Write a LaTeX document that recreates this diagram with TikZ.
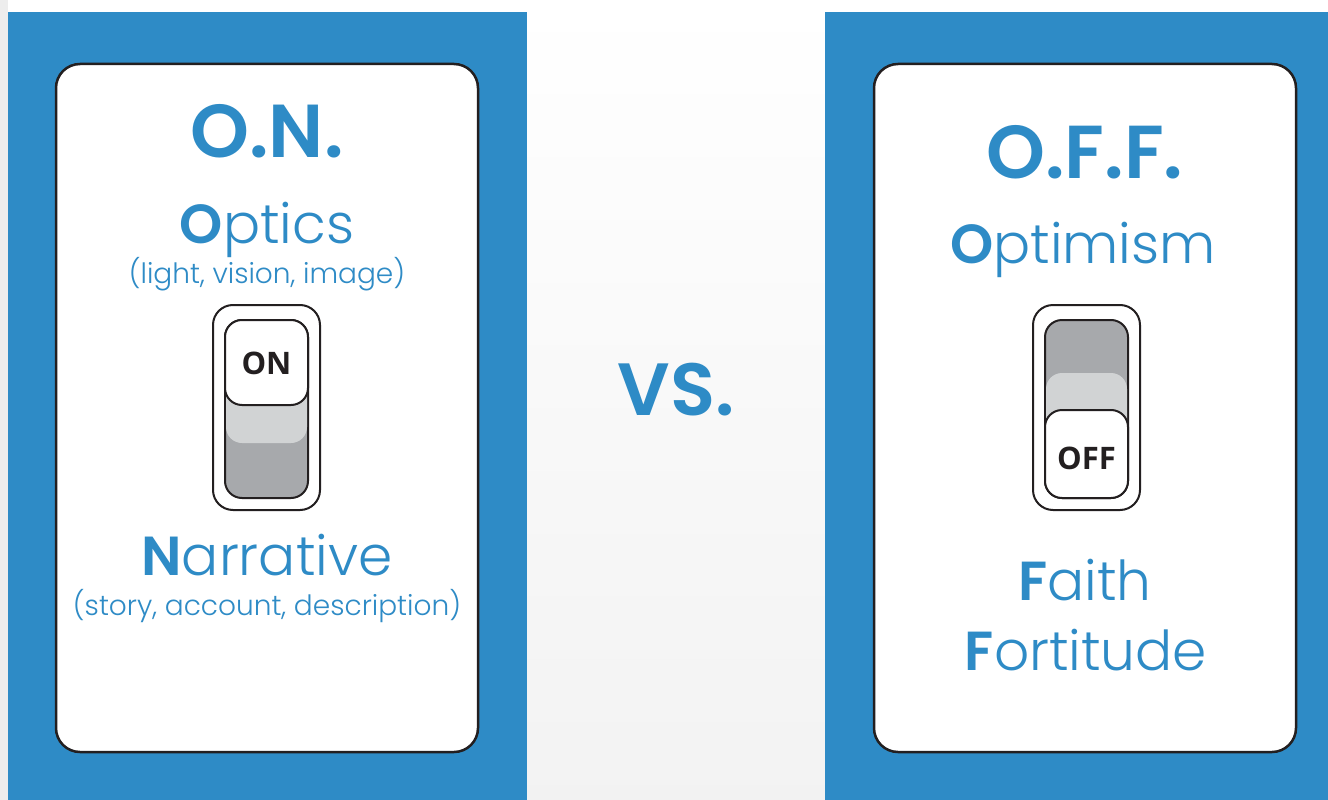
\documentclass[tikz,border=0pt]{standalone}
\usepackage{fontspec}
\setmainfont{Poppins}[UprightFont=* Light, BoldFont=* SemiBold]
\newfontfamily\switchfont{Open Sans}[BoldFont=* Bold]
\definecolor{panelblue}{HTML}{2E8BC6}
\definecolor{knobgrey}{HTML}{A7A9AC}
\definecolor{slidegrey}{HTML}{D1D3D4}
\definecolor{edgeblack}{HTML}{231F20}
\tikzset{
  panel/.style={fill=panelblue},
  card/.style={draw=edgeblack,line width=2.5pt,fill=white,rounded corners=24pt},
  title/.style={text=panelblue,inner sep=0pt,anchor=base,font=\bfseries\fontsize{75}{75}\selectfont},
  word/.style={text=panelblue,inner sep=0pt,anchor=base,font=\fontsize{55}{55}\selectfont},
  hint/.style={text=panelblue,inner sep=0pt,anchor=base,font=\fontsize{28}{28}\selectfont},
  frame/.style={draw=edgeblack,line width=2pt,fill=white,rounded corners=20pt},
  track/.style={draw=edgeblack,line width=2pt,fill=knobgrey,rounded corners=17pt},
  knob/.style={draw=edgeblack,line width=2pt,fill=white,rounded corners=17pt},
  sw/.style={text=edgeblack,inner sep=0pt,font=\switchfont\bfseries\fontsize{31}{31}\selectfont}
}
\begin{document}
\begin{tikzpicture}[x=1pt,y=-1pt]
\useasboundingbox (0,0) rectangle (1328,800);
\shade[top color=white,bottom color=gray!10] (0,0) rectangle (1328,800);
\fill[gray!14] (0,0) rectangle (8,800);
% blue panels and white cards
\fill[panel] (8,12) rectangle (527,800);
\fill[panel] (825,12) rectangle (1328,800);
\draw[card] (56,64) rectangle (478,752);
\draw[card] (874,64) rectangle (1296,752);
% left card: O.N.
\node[title] (on) at (267,157) {O.N.};
\node[word] (optics) at (267,243) {\textbf{O}ptics};
\node[hint] (light) at (267,283) {(light, vision, image)};
\draw[frame] (213,305) rectangle (320,510);
\draw[track] (225,320) rectangle (308,498);
\fill[slidegrey,rounded corners=16pt] (226,370) rectangle (307,443);
\draw[knob] (225,320) rectangle (308,405);
\node[sw] (onlabel) at (266.5,363) {ON};
\node[word] (narrative) at (267,575) {\textbf{N}arrative};
\node[hint] (story) at (267,615) {(story, account, description)};
% middle
\node[title,font=\bfseries\fontsize{74}{74}\selectfont] (vs) at (676,415) {VS.};
% right card: O.F.F.
\node[title] (off) at (1085,178) {O.F.F.};
\node[word] (optimism) at (1083,263) {\textbf{O}ptimism};
\draw[frame] (1033,305) rectangle (1140,510);
\draw[track] (1045,320) rectangle (1128,498);
\fill[slidegrey,rounded corners=16pt] (1046,373) rectangle (1127,450);
\draw[knob] (1045,410) rectangle (1128,498);
\node[sw] (offlabel) at (1086.5,458) {OFF};
\node[word] (faith) at (1085,600) {\textbf{F}aith};
\node[word] (fortitude) at (1086,670) {\textbf{F}ortitude};
\end{tikzpicture}
\end{document}
